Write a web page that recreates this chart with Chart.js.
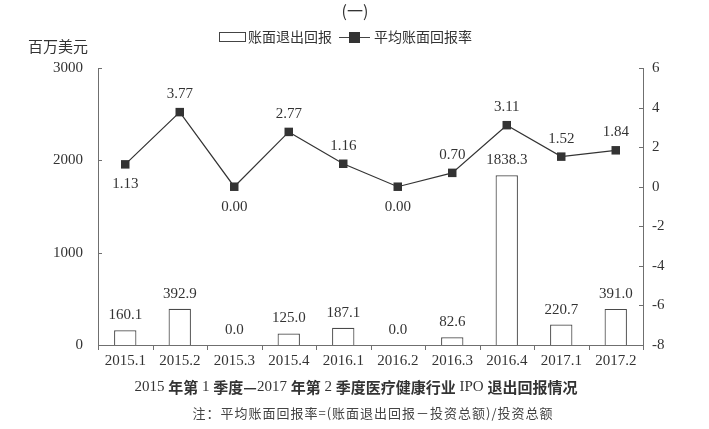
<!DOCTYPE html>
<html>
<head>
<meta charset="utf-8">
<script src="https://cdn.jsdelivr.net/npm/chart.js@4.4.1/dist/chart.umd.min.js"></script>
<style>
  html, body { margin: 0; padding: 0; background: #ffffff; }
  #wrap { width: 709px; height: 429px; position: relative; }
</style>
</head>
<body>
<div id="wrap"><canvas id="c" width="709" height="429"></canvas></div>
<script>
// Quarters, 2015 Q1 – 2017 Q2
const categories = ['2015.1', '2015.2', '2015.3', '2015.4', '2016.1', '2016.2', '2016.3', '2016.4', '2017.1', '2017.2'];
// Book exit return, million USD
const exitReturns = [160.1, 392.9, 0.0, 125.0, 187.1, 0.0, 82.6, 1838.3, 220.7, 391.0];
// Average book return rate
const avgReturnRate = [1.13, 3.77, 0.00, 2.77, 1.16, 0.00, 0.70, 3.11, 1.52, 1.84];
// Axis tick values
const leftTicks = [0, 1000, 2000, 3000];
const rightTicks = [-8, -6, -4, -2, 0, 2, 4, 6];

const SERIF = '"Liberation Serif", "DejaVu Serif", serif';
const CJK = '"Noto Sans CJK SC", sans-serif';
const INK = '#333333';
const AXIS = '#6f6f6f';

// where each rate label sits relative to its marker
const rateLabelBelow = [true, false, true, false, false, true, false, false, false, false];

// caption pieces: Latin text in serif, Chinese in the CJK face
const captionParts = [
  ['s', '2015 '], ['c', '年第'], ['s', ' 1 '], ['c', '季度—'], ['s', '2017 '], ['c', '年第'],
  ['s', ' 2 '], ['c', '季度医疗健康行业'], ['s', ' IPO '], ['c', '退出回报情况']
];

function drawMixed(ctx, parts, cx, cy, serifFont, cjkFont) {
  const fontOf = k => (k === 's' ? serifFont : cjkFont);
  let total = 0;
  parts.forEach(([k, t]) => { ctx.font = fontOf(k); total += ctx.measureText(t).width; });
  let px = cx - total / 2;
  ctx.textAlign = 'left';
  parts.forEach(([k, t]) => {
    ctx.font = fontOf(k);
    ctx.fillText(t, px, cy);
    px += ctx.measureText(t).width;
  });
}

const decorations = {
  id: 'decorations',
  afterDraw(chart) {
    const ctx = chart.ctx;
    const area = chart.chartArea;
    const yL = chart.scales.y, yR = chart.scales.y1;
    ctx.save();

    // tick marks
    ctx.strokeStyle = AXIS;
    ctx.lineWidth = 1;
    ctx.beginPath();
    leftTicks.forEach(v => {
      const py = Math.round(yL.getPixelForValue(v)) + 0.5;
      ctx.moveTo(area.left, py); ctx.lineTo(area.left + 4, py);
    });
    rightTicks.forEach(v => {
      const py = Math.round(yR.getPixelForValue(v)) + 0.5;
      ctx.moveTo(area.right, py); ctx.lineTo(area.right - 4, py);
    });
    const step = (area.right - area.left) / categories.length;
    for (let i = 0; i <= categories.length; i++) {
      const px = Math.round(area.left + i * step) + 0.5;
      ctx.moveTo(px, area.bottom); ctx.lineTo(px, area.bottom + 5);
    }
    ctx.stroke();

    // value labels
    ctx.fillStyle = INK;
    ctx.font = '15px ' + SERIF;
    ctx.textAlign = 'center';
    ctx.textBaseline = 'middle';
    const barMeta = chart.getDatasetMeta(0);
    barMeta.data.forEach((bar, i) => {
      ctx.fillText(exitReturns[i].toFixed(1), bar.x, bar.y - 15);
    });
    const lineMeta = chart.getDatasetMeta(1);
    lineMeta.data.forEach((pt, i) => {
      const dy = rateLabelBelow[i] ? 20 : -18;
      ctx.fillText(avgReturnRate[i].toFixed(2), pt.x, pt.y + dy);
    });

    // header, unit and legend
    ctx.font = '16px ' + CJK;
    ctx.fillText('(一)', 355, 11);
    ctx.textAlign = 'left';
    ctx.font = '15px ' + CJK;
    ctx.fillText('百万美元', 28, 46);

    ctx.font = '14px ' + CJK;
    ctx.strokeStyle = '#444';
    ctx.fillStyle = '#ffffff';
    ctx.fillRect(219.5, 32.5, 26, 9);
    ctx.strokeRect(219.5, 32.5, 26, 9);
    ctx.fillStyle = INK;
    ctx.fillText('账面退出回报', 248, 37);
    ctx.beginPath();
    ctx.moveTo(339, 37.5); ctx.lineTo(370, 37.5);
    ctx.stroke();
    ctx.fillRect(349, 32, 11, 11);
    ctx.fillText('平均账面回报率', 374, 37);

    // caption and note
    ctx.fillStyle = INK;
    drawMixed(ctx, captionParts, 356, 387, '15px ' + SERIF, '600 15px ' + CJK);
    ctx.textAlign = 'center';
    ctx.font = '13px ' + CJK;
    ctx.fillStyle = '#444';
    ctx.letterSpacing = '1px';
    ctx.fillText('注：平均账面回报率=(账面退出回报－投资总额)/投资总额', 373, 413);
    ctx.letterSpacing = '0px';

    ctx.restore();
  }
};

new Chart(document.getElementById('c'), {
  data: {
    labels: categories,
    datasets: [
      {
        type: 'bar',
        label: '账面退出回报',
        data: exitReturns,
        yAxisID: 'y',
        backgroundColor: '#ffffff',
        borderColor: '#4a4a4a',
        borderWidth: 1.2,
        barPercentage: 0.41,
        categoryPercentage: 1.0,
        order: 2
      },
      {
        type: 'line',
        label: '平均账面回报率',
        data: avgReturnRate,
        yAxisID: 'y1',
        borderColor: INK,
        borderWidth: 1.2,
        pointStyle: 'rect',
        pointRadius: 6,
        pointBackgroundColor: INK,
        pointBorderColor: INK,
        pointBorderWidth: 0,
        tension: 0,
        order: 1
      }
    ]
  },
  options: {
    responsive: false,
    animation: false,
    layout: { padding: { top: 68, left: 0, right: 0, bottom: 0 } },
    plugins: { legend: { display: false }, title: { display: false }, tooltip: { enabled: false } },
    scales: {
      x: {
        offset: true,
        grid: { display: false, drawTicks: false },
        border: { display: true, color: AXIS, width: 1 },
        ticks: { color: INK, font: { family: SERIF, size: 15 }, padding: 7, maxRotation: 0, autoSkip: false },
        afterFit(s) { s.height = 84; }
      },
      y: {
        position: 'left',
        min: 0, max: 3000,
        afterBuildTicks(s) { s.ticks = leftTicks.map(v => ({ value: v })); },
        grid: { display: false, drawTicks: false },
        border: { display: true, color: AXIS, width: 1 },
        ticks: { color: INK, font: { family: SERIF, size: 15 }, padding: 15, callback: v => String(v) },
        afterFit(s) { s.width = 98; }
      },
      y1: {
        position: 'right',
        min: -8, max: 6,
        afterBuildTicks(s) { s.ticks = rightTicks.map(v => ({ value: v })); },
        grid: { display: false, drawTicks: false },
        border: { display: true, color: AXIS, width: 1 },
        ticks: { color: INK, font: { family: SERIF, size: 15 }, padding: 9, callback: v => String(v) },
        afterFit(s) { s.width = 66; }
      }
    }
  },
  plugins: [decorations]
});
</script>
</body>
</html>
